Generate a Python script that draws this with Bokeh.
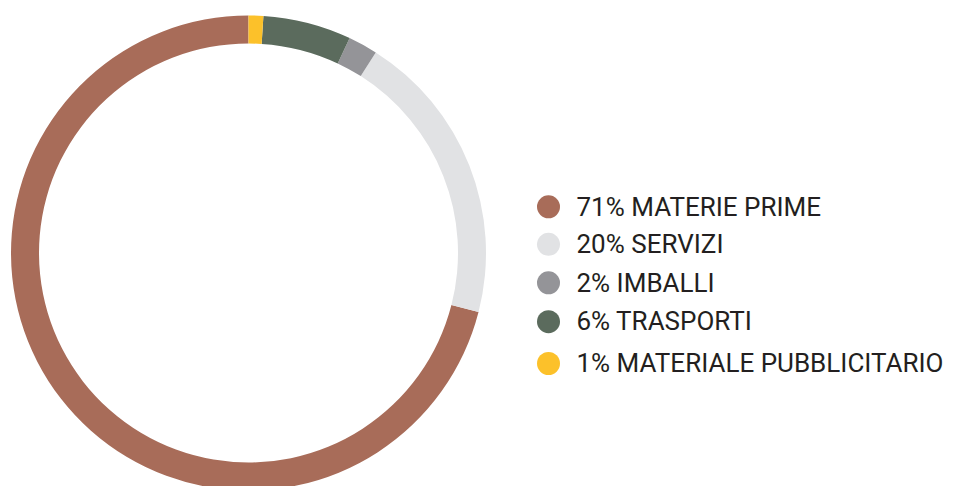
import numpy as np
from bokeh.plotting import figure
from bokeh.models import Range1d, ColumnDataSource
from bokeh.core.properties import value
from bokeh.embed import file_html
from bokeh.resources import INLINE

# Data
labels = ["MATERIE PRIME", "SERVIZI", "IMBALLI", "TRASPORTI", "MATERIALE PUBBLICITARIO"]
percents = [71, 20, 2, 6, 1]
colors = ["#a86c59", "#e1e2e4", "#949498", "#5b6b5d", "#fcc12a"]

W, H = 956, 486
p = figure(width=W, height=H, output_backend="svg", toolbar_location=None,
           x_range=Range1d(0, W), y_range=Range1d(0, H), min_border=0)
p.axis.visible = False
p.grid.visible = False
p.outline_line_color = None
p.background_fill_color = "white"
p.border_fill_color = "white"

vals = np.array(percents, dtype=float)
frac = vals / vals.sum()
cum = np.concatenate([[0], np.cumsum(frac)])
start = np.pi / 2 + 2 * np.pi * cum[:-1]
end = np.pi / 2 + 2 * np.pi * cum[1:]

cx, cy = 248, H - 252.5
src = ColumnDataSource(dict(start=start, end=end, color=colors))
p.annular_wedge(x=cx, y=cy, inner_radius=209.5, outer_radius=237.5,
                start_angle="start", end_angle="end", color="color",
                source=src, line_color=None)

# Legend
leg_y_screen = [206.3, 243.8, 282.3, 321.2, 363.0]
leg_y = [H - v for v in leg_y_screen]
texts = [f"{v}% {l}" for v, l in zip(percents, labels)]
lsrc = ColumnDataSource(dict(y=leg_y, color=colors, text=texts,
                             ty=[v + 0.3 for v in leg_y]))
p.scatter(x=548, y="y", size=23, color="color", line_color=None, source=lsrc)
p.text(x=576, y="ty", text="text", source=lsrc, text_font=value("Roboto"),
       text_font_size="26px", text_color="#231f20", text_baseline="alphabetic",
       text_align="left")

open("out.html", "w").write(file_html(p, INLINE))
